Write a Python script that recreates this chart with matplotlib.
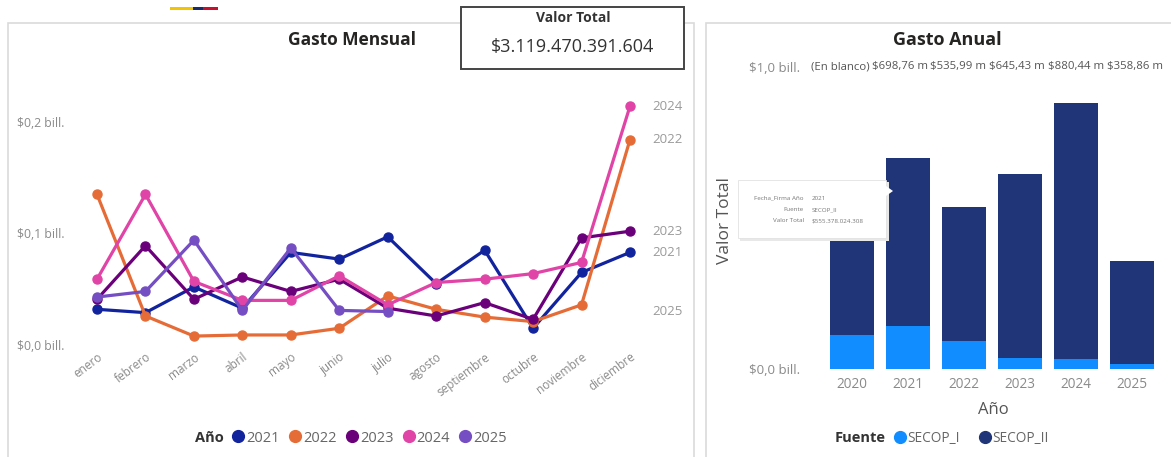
import matplotlib.pyplot as plt
from matplotlib.lines import Line2D
from matplotlib.patches import Rectangle, Polygon

plt.rcParams['font.family'] = ['Open Sans', 'DejaVu Sans']

# monthly spend per year, in billones de pesos
meses = ['enero', 'febrero', 'marzo', 'abril', 'mayo', 'junio', 'julio',
         'agosto', 'septiembre', 'octubre', 'noviembre', 'diciembre']
gasto_2021 = [0.032, 0.029, 0.052, 0.033, 0.083, 0.077, 0.097, 0.055, 0.085, 0.015, 0.065, 0.083]
gasto_2022 = [0.135, 0.026, 0.008, 0.009, 0.009, 0.015, 0.044, 0.032, 0.025, 0.021, 0.036, 0.184]
gasto_2023 = [0.041, 0.089, 0.041, 0.061, 0.048, 0.059, 0.033, 0.026, 0.038, 0.023, 0.096, 0.102]
gasto_2024 = [0.059, 0.135, 0.057, 0.040, 0.040, 0.062, 0.036, 0.056, 0.059, 0.064, 0.074, 0.214]
gasto_2025 = [0.043, 0.048, 0.094, 0.031, 0.087, 0.031, 0.030]
series_anio = ['2021', '2022', '2023', '2024', '2025']
series_gasto = [gasto_2021, gasto_2022, gasto_2023, gasto_2024, gasto_2025]
colores_anio = ['#12239E', '#E66C37', '#6B007B', '#E044A7', '#744EC2']

# yearly spend split by source, in billones
anios = ['2020', '2021', '2022', '2023', '2024', '2025']
total_anual = [0.600, 0.69876, 0.53599, 0.64543, 0.88044, 0.35886]
secop_i = [0.113, 0.143, 0.093, 0.036, 0.033, 0.017]
secop_ii = [t - s for t, s in zip(total_anual, secop_i)]
etiquetas_total = ['(En blanco)'] + [('$%.2f m' % (t * 1000)).replace('.', ',') for t in total_anual[1:]]

W, H = 1171, 457


def fx(px):
    return px / W


def fy(py):
    return 1 - py / H


def caja(x0, y0, x1, y1, **kw):
    r = Rectangle((fx(x0), fy(y1)), (x1 - x0) / W, (y1 - y0) / H,
                  transform=fig.transFigure, **kw)
    fig.add_artist(r)
    return r


fig = plt.figure(figsize=(W / 100, H / 100), dpi=100)

# panel frames
caja(8, 23, 694, 458, fill=False, ec='#dadada', lw=1.2)
caja(706, 23, 1180, 458, fill=False, ec='#dadada', lw=1.2)

# little flag strip at the top
caja(170, 7, 193, 10, fc='#F2C500', ec='none')
caja(193, 7, 203, 10, fc='#1B2A6B', ec='none')
caja(203, 7, 218, 10, fc='#C8102E', ec='none')

# ---- Gasto Mensual ----
ax1 = fig.add_axes([fx(72.8), fy(345), (654.2 - 72.8) / W, (345 - 94) / H])
for anio, vals, c in zip(series_anio, series_gasto, colores_anio):
    ax1.plot(range(len(vals)), vals, color=c, lw=2.3, marker='o', ms=6.5)
    ax1.text(11.47, vals[-1], anio, ha='left', va='center', fontsize=9.5,
             color='#9a9a9a', clip_on=False)
ax1.set_xlim(-0.5, 11.5)
ax1.set_ylim(0, 0.225)
ax1.set_yticks([0, 0.1, 0.2], ['$0,0 bill.', '$0,1 bill.', '$0,2 bill.'])
ax1.set_xticks(range(12), meses, rotation=37, ha='right', rotation_mode='anchor')
ax1.tick_params(axis='y', length=0, pad=6, labelsize=8.8, labelcolor='#8a8a8a')
ax1.tick_params(axis='x', length=0, pad=4, labelsize=8.5, labelcolor='#8a8a8a')
for s in ax1.spines.values():
    s.set_visible(False)

fig.text(fx(352), fy(40), 'Gasto Mensual', ha='center', va='center',
         fontsize=12.5, fontweight='bold', color='#252423')

fig.text(fx(195), fy(438), 'Año', ha='left', va='center', fontsize=10.5,
         fontweight='bold', color='#333333')
h1 = [Line2D([], [], ls='', marker='o', ms=8.5, color=c) for c in colores_anio]
fig.legend(h1, series_anio, loc='center left', bbox_to_anchor=(fx(233), fy(438)),
           ncol=5, frameon=False, fontsize=10.5, labelcolor='#666666',
           handlelength=0.7, handletextpad=0.2, columnspacing=0.7,
           borderpad=0, borderaxespad=0)

# ---- Valor Total card ----
caja(461, 7, 684, 69, fc='white', ec='#444444', lw=1.4, zorder=5)
fig.text(fx(573), fy(18), 'Valor Total', ha='center', va='center', fontsize=10,
         fontweight='bold', color='#333333', zorder=6)
fig.text(fx(573), fy(47), '$3.119.470.391.604', ha='center', va='center',
         fontsize=13, color='#333333', zorder=6)

# ---- Gasto Anual ----
ax2 = fig.add_axes([fx(818), fy(369), (1166 - 818) / W, 302 / H])
x = range(len(anios))
ax2.bar(x, secop_i, width=0.77, color='#118DFF')
ax2.bar(x, secop_ii, width=0.77, bottom=secop_i, color='#1F3577')
for i, t in enumerate(etiquetas_total):
    ax2.text(-0.2 + 1.05 * i, 1.0, t, ha='center', va='center', fontsize=8.2,
             color='#555555', clip_on=False,
             bbox=dict(fc='white', ec='none', pad=0.1))
ax2.set_xlim(-0.607, 5.607)
ax2.set_ylim(0, 1.0)
ax2.set_yticks([0, 1.0], ['$0,0 bill.', '$1,0 bill.'])
ax2.set_xticks(list(x), anios)
ax2.tick_params(axis='y', length=0, pad=13, labelsize=9.5, labelcolor='#8a8a8a')
ax2.tick_params(axis='x', length=0, pad=6, labelsize=9.8, labelcolor='#8a8a8a')
for s in ax2.spines.values():
    s.set_visible(False)

fig.text(fx(947), fy(40), 'Gasto Anual', ha='center', va='center',
         fontsize=13, fontweight='bold', color='#252423')
fig.text(fx(725), fy(220), 'Valor Total', rotation=90, ha='center', va='center',
         fontsize=12.5, color='#555555')
fig.text(fx(993), fy(410), 'Año', ha='center', va='center', fontsize=12,
         color='#555555')

fig.text(fx(835), fy(438), 'Fuente', ha='left', va='center', fontsize=10.5,
         fontweight='bold', color='#333333')
h2 = [Line2D([], [], ls='', marker='o', ms=8.5, color=c) for c in ['#118DFF', '#1F3577']]
fig.legend(h2, ['SECOP_I', 'SECOP_II'], loc='center left',
           bbox_to_anchor=(fx(895), fy(438)), ncol=2, frameon=False,
           fontsize=9.8, labelcolor='#666666', handlelength=0.7,
           handletextpad=0.2, columnspacing=1.5, borderpad=0, borderaxespad=0)

# hover tooltip over the 2020 bar
caja(740, 182, 889, 241, fc='#e8e8e8', ec='none', zorder=7)
caja(738, 180, 886, 238, fc='white', ec='#e2e2e2', lw=0.6, zorder=8)
fig.add_artist(Polygon([(fx(886), fy(186)), (fx(893), fy(191)), (fx(886), fy(196))],
                       transform=fig.transFigure, fc='white', ec='none', zorder=8))
filas = [('Fecha_Firma Año', '2021'), ('Fuente', 'SECOP_II'),
         ('Valor Total', '$555.378.024.308')]
for k, (et, val) in enumerate(filas):
    yy = fy(198 + 11.5 * k)
    fig.text(fx(804), yy, et, ha='right', va='center', fontsize=4.5,
             color='#777777', zorder=9)
    fig.text(fx(812), yy, val, ha='left', va='center', fontsize=4.5,
             color='#777777', zorder=9)

fig.savefig('out.png', dpi=100)
